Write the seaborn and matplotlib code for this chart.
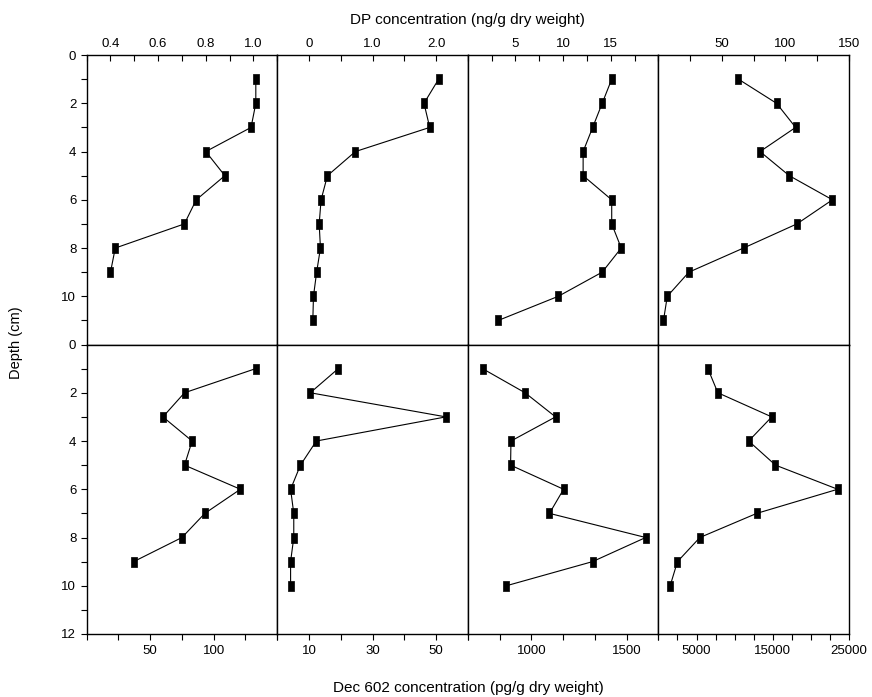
import numpy as np
import matplotlib.pyplot as plt
import seaborn as sns
from matplotlib.ticker import FixedLocator

sns.set_style("ticks")
plt.rcParams['font.family'] = ['Liberation Sans', 'DejaVu Sans']
plt.rcParams['text.color'] = 'black'
plt.rcParams['xtick.color'] = 'black'
plt.rcParams['ytick.color'] = 'black'
plt.rcParams['axes.labelcolor'] = 'black'

# depth (cm) of each slice
depth_a = [1, 2, 3, 4, 5, 6, 7, 8, 9]
depth_b = [1, 2, 3, 4, 5, 6, 7, 8, 9, 10, 11]
depth_c = [1, 2, 3, 4, 5, 6, 7, 8, 9, 10]

# DP concentration (ng/g dry weight), four cores
dp_1 = [1.01, 1.01, 0.99, 0.80, 0.88, 0.76, 0.71, 0.42, 0.40]
dp_2 = [2.04, 1.81, 1.90, 0.73, 0.29, 0.19, 0.16, 0.18, 0.12, 0.07, 0.06]
dp_3 = [15.1, 14.1, 13.1, 12.1, 12.1, 15.1, 15.1, 16.1, 14.1, 9.5, 3.2]
dp_4 = [63, 93, 108, 80, 103, 137, 109, 67, 24, 7, 4]

# Dec 602 concentration (pg/g dry weight), four cores
dec_1 = [133, 77, 60, 83, 77, 121, 93, 75, 37]
dec_2 = [19.2, 10.4, 53.1, 12.3, 7.3, 4.2, 5.2, 5.2, 4.2, 4.2]
dec_3 = [744, 967, 1127, 893, 891, 1169, 1095, 1600, 1321, 869]
dec_4 = [6490, 7800, 14870, 11840, 15360, 23520, 12900, 5440, 2500, 1540]

top_data = [(dp_1, depth_a), (dp_2, depth_b), (dp_3, depth_b), (dp_4, depth_b)]
bot_data = [(dec_1, depth_a), (dec_2, depth_c), (dec_3, depth_c), (dec_4, depth_c)]

# axis settings: (xlim, tick step, labelled ticks)
top_axes = [((0.3, 1.1), 0.1, {0.4: '0.4', 0.6: '0.6', 0.8: '0.8', 1.0: '1.0'}),
            ((-0.5, 2.5), 0.5, {0: '0', 1: '1.0', 2: '2.0'}),
            ((0, 20), 2.5, {5: '5', 10: '10', 15: '15'}),
            ((0, 150), 25, {50: '50', 100: '100', 150: '150'})]
bot_axes = [((0, 150), 25, {50: '50', 100: '100'}),
            ((0, 60), 10, {10: '10', 30: '30', 50: '50'}),
            ((2000 / 3, 5000 / 3), 500 / 3, {1000: '1000', 1500: '1500'}),
            ((0, 25000), 2500, {5000: '5000', 15000: '15000', 25000: '25000'})]

# small upright rectangle, like the original markers
rect = [(-0.33, -0.5), (0.33, -0.5), (0.33, 0.5), (-0.33, 0.5), (-0.33, -0.5)]

fig, axes = plt.subplots(2, 4, figsize=(8.72, 6.97), dpi=100)
fig.subplots_adjust(left=0.0994, right=0.9736, top=0.921, bottom=0.0904,
                    wspace=0, hspace=0)


def set_xticks(ax, lim, step, labels):
    ticks = np.linspace(lim[0], lim[1], int(round((lim[1] - lim[0]) / step)) + 1)
    ax.set_xlim(lim)
    ax.xaxis.set_major_locator(FixedLocator(ticks))
    txt = []
    for t in ticks:
        s = ''
        for k, v in labels.items():
            if abs(t - k) < step * 1e-3:
                s = v
        txt.append(s)
    ax.set_xticklabels(txt)


for row, (data, settings) in enumerate([(top_data, top_axes), (bot_data, bot_axes)]):
    for col in range(4):
        ax = axes[row, col]
        x, y = data[col]
        sns.lineplot(x=x, y=y, sort=False, estimator=None, ax=ax, color='black',
                     linewidth=0.8, marker=rect, markersize=6.5,
                     markeredgecolor='black', markerfacecolor='black',
                     markeredgewidth=0.5)
        lim, step, labels = settings[col]
        set_xticks(ax, lim, step, labels)
        ax.set_ylim(12, 0)
        for sp in ax.spines.values():
            sp.set_visible(True)
            sp.set_linewidth(1.0)
            sp.set_color('black')
        ax.set_xlabel('')
        ax.set_ylabel('')
        if row == 0:
            ax.xaxis.tick_top()
            ax.tick_params(axis='x', which='both', top=True, bottom=False,
                           labeltop=True, labelbottom=False, direction='in',
                           length=4, width=0.8, labelsize=9.5, pad=4)
        else:
            ax.tick_params(axis='x', which='both', top=False, bottom=True,
                           direction='out', length=4, width=0.8,
                           labelsize=9.5, pad=4)
        if col == 0:
            if row == 0:
                ax.set_yticks([0, 2, 4, 6, 8, 10])
            else:
                ax.set_yticks([0, 2, 4, 6, 8, 10, 12])
            ax.set_yticks([1, 3, 5, 7, 9, 11], minor=True)
            ax.tick_params(axis='y', which='both', left=True, direction='out',
                           length=4, width=0.8, labelsize=9.5)
        else:
            ax.set_yticks([])
            ax.tick_params(axis='y', which='both', left=False, labelleft=False)

fig.text(0.5366, 0.972, 'DP concentration (ng/g dry weight)', ha='center',
         va='center', fontsize=11)
fig.text(0.5366, 0.013, 'Dec 602 concentration (pg/g dry weight)', ha='center',
         va='center', fontsize=11)
fig.text(0.018, 0.508, 'Depth (cm)', ha='center', va='center', rotation=90,
         fontsize=10.5)

fig.savefig('out.png', dpi=100)
